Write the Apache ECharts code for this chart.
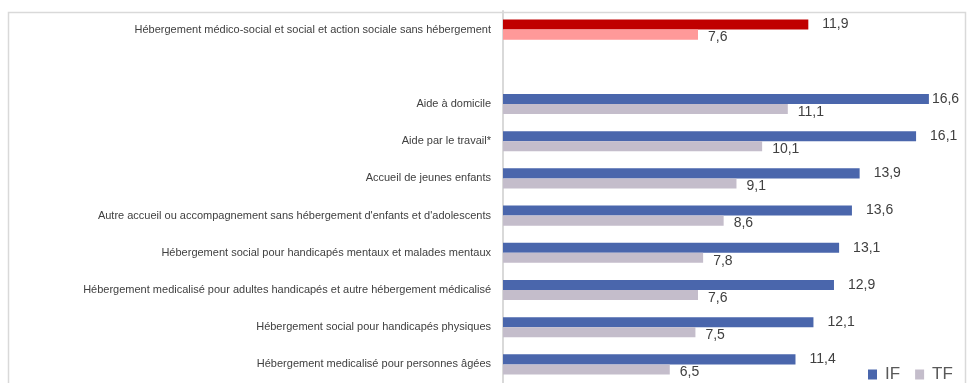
<!DOCTYPE html>
<html style="height: 100%">
<head>
    <meta charset="UTF-8">
    <title>IF / TF</title>
</head>
<body style="height: 100%; margin: 0; background: #fff">
<div id="container" style="width: 967px; height: 383px"></div>
<script src="https://cdn.jsdelivr.net/npm/echarts@6/dist/echarts.min.js"></script>
<script>
    // categories, top to bottom ('' = empty slot)
    var categories = [
        'Hébergement médico-social et social et action sociale sans hébergement',
        '',
        'Aide à domicile',
        'Aide par le travail*',
        'Accueil de jeunes enfants',
        "Autre accueil ou accompagnement sans hébergement d'enfants et d'adolescents",
        'Hébergement social pour handicapés mentaux et malades mentaux',
        'Hébergement medicalisé pour adultes handicapés et autre hébergement médicalisé',
        'Hébergement social pour handicapés physiques',
        'Hébergement medicalisé pour personnes âgées'
    ];
    var ifValues = [11.9, null, 16.6, 16.1, 13.9, 13.6, 13.1, 12.9, 12.1, 11.4];
    var tfValues = [7.6, null, 11.1, 10.1, 9.1, 8.6, 7.8, 7.6, 7.5, 6.5];

    var ifColor = '#4a66ac', tfColor = '#c4bdcb';
    var ifTotal = '#c00000', tfTotal = '#ff9999';

    function fr(p) {
        return p.value == null ? '' : p.value.toFixed(1).replace('.', ',');
    }
    function build(vals, hl) {
        return vals.map(function (v, i) {
            if (i === 0) return {value: v, itemStyle: {color: hl}};
            return v;
        });
    }

    var ifData = build(ifValues, ifTotal);
    // longest bar: label sits closer to the bar end
    ifData[2] = {value: ifValues[2], label: {distance: 3}};

    var myChart = echarts.init(document.getElementById('container'));
    var option = {
        animation: false,
        textStyle: {fontFamily: 'Liberation Sans, Arial, sans-serif'},
        graphic: [{
            type: 'rect',
            left: 6, top: 10,
            shape: {width: 957, height: 420},
            style: {fill: 'none', stroke: '#d9d9d9', lineWidth: 1.5},
            silent: true
        }],
        legend: {
            left: 863,
            top: 361,
            itemWidth: 9,
            itemHeight: 10,
            itemGap: 15,
            icon: 'rect',
            textStyle: {fontSize: 17, color: '#595959', padding: [2, 0, 0, 3]},
            data: ['IF', 'TF']
        },
        grid: {left: 503, top: 11, width: 449, height: 374, containLabel: false},
        xAxis: {
            type: 'value',
            min: 0,
            max: 17.5,
            show: false
        },
        yAxis: {
            type: 'category',
            inverse: true,
            data: categories,
            axisLine: {lineStyle: {color: '#d9d9d9', width: 2}},
            axisTick: {show: false},
            axisLabel: {fontSize: 11, color: '#404040', margin: 12}
        },
        series: [
            {
                name: 'IF',
                type: 'bar',
                data: ifData,
                itemStyle: {color: ifColor},
                barGap: '0%',
                barCategoryGap: '46%',
                label: {
                    show: true, position: 'right', distance: 14,
                    fontSize: 14, color: '#404040', formatter: fr, offset: [0, 0]
                }
            },
            {
                name: 'TF',
                type: 'bar',
                data: build(tfValues, tfTotal),
                itemStyle: {color: tfColor},
                barGap: '0%',
                barCategoryGap: '46%',
                label: {
                    show: true, position: 'right', distance: 10,
                    fontSize: 14, color: '#404040', formatter: fr, offset: [0, 3]
                }
            }
        ]
    };
    myChart.setOption(option);
</script>
</body>
</html>
